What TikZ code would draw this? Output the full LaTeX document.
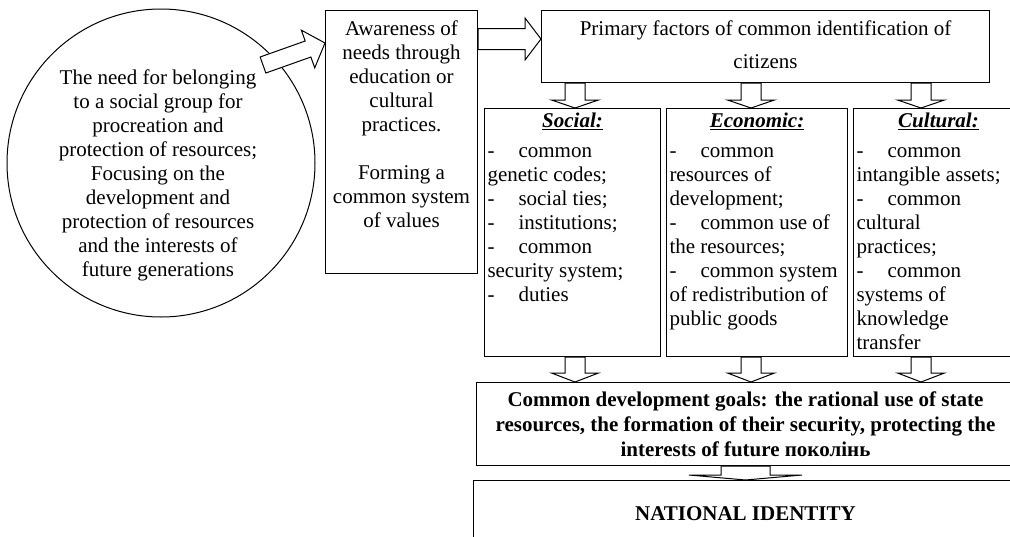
\documentclass[tikz,border=0pt]{standalone}
\usepackage{fontspec}
\setmainfont{Liberation Serif}
\usetikzlibrary{calc}

\newcommand{\colhead}[1]{{\centering\underline{\textbf{\textit{#1}}}\par}\vspace{6pt}}
\newcommand{\itemdash}{\makebox[31pt][l]{-}}

\begin{document}
\begin{tikzpicture}[
  x=1pt, y=-1pt,
  every node/.style={font=\fontsize{21}{24}\selectfont},
  ring/.style={draw, circle, line width=1pt, minimum size=308pt, inner sep=0pt},
  colbox/.style={draw, line width=1pt, anchor=north west, inner xsep=3pt, inner ysep=4pt},
  goalbox/.style={draw, line width=1pt, anchor=north west, align=center,
    font=\fontsize{21}{25}\selectfont\bfseries},
  fat/.style n args={3}{draw, line width=1pt, fill=white, to path={
    ($(\tikztostart)!#1!90:(\tikztotarget)$)
    -- ($(\tikztotarget)!#3!(\tikztostart)!#1!90:(\tikztotarget)$)
    -- ($(\tikztotarget)!#3!(\tikztostart)!#2!90:(\tikztotarget)$)
    -- (\tikztotarget)
    -- ($(\tikztotarget)!#3!(\tikztostart)!#2!-90:(\tikztotarget)$)
    -- ($(\tikztotarget)!#3!(\tikztostart)!#1!-90:(\tikztotarget)$)
    -- ($(\tikztostart)!#1!-90:(\tikztotarget)$) -- cycle}}
]
  \useasboundingbox (0,0) rectangle (1010,536);

  % left: the need
  \node[ring] (need) at (161,163) {};
  \node[align=center, inner sep=0pt] (needtext) at (158,175) {The need for belonging\\to a social group for\\procreation and\\protection of resources;\\Focusing on the\\development and\\protection of resources\\and the interests of\\future generations};

  \node[colbox] (aware) at (325,10) {\parbox[t][255pt][t]{146pt}{\vspace*{6pt}\centering Awareness of\\needs through\\education or\\cultural\\practices.\\[24pt]Forming a\\common system\\of values}};
  \node[colbox] (primary) at (541,10) {\parbox[t][64pt][t]{442pt}{\vspace*{6pt}\centering\baselineskip=33pt Primary factors of common identification of\\citizens}};

  % three groups of factors
  \node[colbox] (social) at (484,108) {\parbox[t][240pt][t]{170pt}{\colhead{Social:}\itemdash common\\genetic codes;\\\itemdash social ties;\\\itemdash institutions;\\\itemdash common\\security system;\\\itemdash duties}};
  \node[colbox] (economic) at (666,108) {\parbox[t][240pt][t]{175pt}{\colhead{Economic:}\itemdash common\\resources of\\development;\\\itemdash common use of\\the resources;\\\itemdash common system\\of redistribution of\\public goods}};
  \node[colbox] (cultural) at (853,108) {\parbox[t][240pt][t]{164pt}{\colhead{Cultural:}\itemdash common\\intangible assets;\\\itemdash common\\cultural\\practices;\\\itemdash common\\systems of\\knowledge\\transfer}};

  \node[goalbox, minimum width=538pt, minimum height=83pt] (goals) at (476,382) {Common development goals: the rational use of state\\resources, the formation of their security, protecting the\\interests of future поколінь};
  \node[goalbox, minimum width=544pt, minimum height=66pt] (national) at (473,480) {NATIONAL IDENTITY};

  \coordinate (needtail) at (263,65);
  \coordinate (rowA) at (0,43);
  \coordinate (rowB) at (0,39);
  \coordinate (colA) at (575,0);
  \coordinate (colB) at (751,0);
  \coordinate (colC) at (921,0);

  \draw[fat={8.5pt}{20pt}{18pt}] (needtail) to (aware.west |- rowA);
  \draw[fat={10.5pt}{21pt}{16pt}] (aware.east |- rowB) to (primary.west |- rowB);
  \draw[fat={10pt}{23.5pt}{8pt}] (primary.south -| colA) to (social.north -| colA);
  \draw[fat={10pt}{23.5pt}{8pt}] (primary.south -| colB) to (economic.north -| colB);
  \draw[fat={10pt}{23.5pt}{8pt}] (primary.south -| colC) to (cultural.north -| colC);
  \draw[fat={10pt}{23.5pt}{9pt}] (social.south -| colA) to (goals.north -| colA);
  \draw[fat={10pt}{23.5pt}{9pt}] (economic.south -| colB) to (goals.north -| colB);
  \draw[fat={10pt}{23.5pt}{9pt}] (cultural.south -| colC) to (goals.north -| colC);
  \draw[fat={24.5pt}{56.5pt}{5pt}] (goals.south) to (national.north);
\end{tikzpicture}
\end{document}
